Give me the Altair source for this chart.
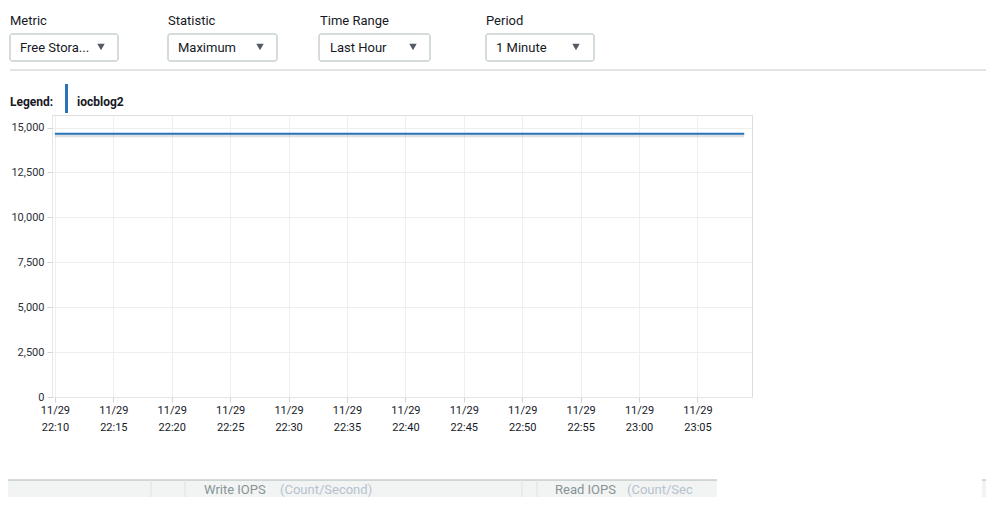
import altair as alt
import pandas as pd

# ---------------- data ----------------
minute_labels = [
    "22:10", "22:11", "22:12", "22:13", "22:14", "22:15", "22:16", "22:17", "22:18", "22:19",
    "22:20", "22:21", "22:22", "22:23", "22:24", "22:25", "22:26", "22:27", "22:28", "22:29",
    "22:30", "22:31", "22:32", "22:33", "22:34", "22:35", "22:36", "22:37", "22:38", "22:39",
    "22:40", "22:41", "22:42", "22:43", "22:44", "22:45", "22:46", "22:47", "22:48", "22:49",
    "22:50", "22:51", "22:52", "22:53", "22:54", "22:55", "22:56", "22:57", "22:58", "22:59",
    "23:00", "23:01", "23:02", "23:03", "23:04", "23:05", "23:06", "23:07", "23:08", "23:09",
]
free_storage = [
    14650, 14650, 14650, 14650, 14650, 14650, 14650, 14650, 14650, 14650,
    14650, 14650, 14650, 14650, 14650, 14650, 14650, 14650, 14650, 14650,
    14650, 14650, 14650, 14650, 14650, 14650, 14650, 14650, 14650, 14650,
    14650, 14650, 14650, 14650, 14650, 14650, 14650, 14650, 14650, 14650,
    14650, 14650, 14650, 14650, 14650, 14650, 14650, 14650, 14650, 14650,
    14650, 14650, 14650, 14650, 14650, 14650, 14650, 14650, 14650, 14650,
]
series_name = "iocblog2"
tick_dates = ["11/29"] * 12
tick_times = ["22:10", "22:15", "22:20", "22:25", "22:30", "22:35",
              "22:40", "22:45", "22:50", "22:55", "23:00", "23:05"]
y_ticks = [0, 2500, 5000, 7500, 10000, 12500, 15000]

control_titles = ["Metric", "Statistic", "Time Range", "Period"]
control_values = ["Free Stora...", "Maximum", "Last Hour", "1 Minute"]
bottom_tabs = ["Write IOPS", "Read IOPS"]
bottom_units = ["(Count/Second)", "(Count/Sec"]

# ---------------- layout (page pixels) ----------------
OX, OY = 52, 115          # plot origin on the page
W, H = 700, 282
FONT = "Roboto"
DARK = "#16191f"
BLUE = "#2a73b8"

def rx(v):
    return v - OX

def ry(v):
    return v - OY

XP = lambda f: alt.X(f + ":Q", scale=None, axis=None)
YP = lambda f: alt.Y(f + ":Q", scale=None, axis=None)
X2P = lambda f: alt.X2(f)
Y2P = lambda f: alt.Y2(f)

# ---------------- main series ----------------
df = pd.DataFrame({
    "t": ["2018-11-29T" + m + ":00Z" for m in minute_labels],
    "v": free_storage,
    "s": series_name,
})

def hm(s):
    h, m = s.split(":")
    return int(h), int(m)

tick_vals = [alt.DateTime(year=2018, month=11, date=29, hours=hm(t)[0], minutes=hm(t)[1], utc=True)
             for t in tick_times]
d0 = alt.DateTime(year=2018, month=11, date=29, hours=22, minutes=9, seconds=45, utc=True)
d1 = alt.DateTime(year=2018, month=11, date=29, hours=23, minutes=9, seconds=40, utc=True)
x_scale = alt.Scale(type="utc", domain=[d0, d1])
y_scale = alt.Scale(domain=[0, 15700], nice=False, zero=True)

x_enc = alt.X(
    "t:T",
    scale=x_scale,
    axis=alt.Axis(
        values=tick_vals, title=None,
        labelExpr="[utcFormat(datum.value, '%m/%d'), utcFormat(datum.value, '%H:%M')]",
        labelFlush=False, labelFontSize=11, labelColor=DARK, labelFont=FONT,
        labelLineHeight=17, labelPadding=2, tickSize=5, tickColor="#d0d4d6",
        domainColor="#e4e7e8", grid=True, gridColor="#eef0f0",
    ),
)
y_enc = alt.Y(
    "v:Q",
    scale=y_scale,
    axis=alt.Axis(
        values=y_ticks, labelExpr="format(datum.value, ',')", title=None,
        labelFontSize=11, labelColor="#2b3036",
        labelFont=FONT, labelPadding=3, tickSize=5, tickColor="#d0d4d6",
        domainColor="#e4e7e8", grid=True, gridColor="#eef0f0",
    ),
)

shadow = alt.Chart(df).mark_line(color="#b9bec0", strokeWidth=3, opacity=0.45, yOffset=2).encode(
    x=x_enc, y=y_enc)
line = alt.Chart(df).mark_line(color=BLUE, strokeWidth=2).encode(x=x_enc, y=y_enc)
series = alt.layer(shadow, line)

# ---------------- UI chrome ----------------
ctrl = pd.DataFrame({
    "title": control_titles,
    "value": control_values,
    "tx": [rx(v) for v in [10, 168, 320, 486]],
    "ty": [ry(21)] * 4,
    "bx0": [rx(v) for v in [10, 168, 319, 486]],
    "bx1": [rx(v) for v in [118, 277, 430, 594]],
    "by0": [ry(34)] * 4,
    "by1": [ry(61)] * 4,
    "vx": [rx(v) for v in [20, 178, 330, 496]],
    "vy": [ry(48)] * 4,
    "ax": [rx(v) for v in [101, 260, 413, 576]],
    "ay": [ry(47)] * 4,
})
ctrl_titles = alt.Chart(ctrl).mark_text(align="left", baseline="middle", font=FONT,
                                        fontSize=13, color=DARK).encode(
    x=XP("tx"), y=YP("ty"), text="title:N")
ctrl_boxes = alt.Chart(ctrl).mark_rect(fill="white", stroke="#aab7b8", strokeWidth=1,
                                       cornerRadius=2).encode(
    x=XP("bx0"), x2=X2P("bx1"), y=YP("by0"), y2=Y2P("by1"))
ctrl_vals = alt.Chart(ctrl).mark_text(align="left", baseline="middle", font=FONT,
                                      fontSize=13, color=DARK).encode(
    x=XP("vx"), y=YP("vy"), text="value:N")
ctrl_arrows = alt.Chart(ctrl).mark_point(shape="triangle-down", filled=True, size=55,
                                         color="#545b64", opacity=1).encode(
    x=XP("ax"), y=YP("ay"))

sep = pd.DataFrame({"x0": [rx(10)], "x1": [rx(1000)], "y": [ry(70)]})
sep_rule = alt.Chart(sep).mark_rule(color="#c6cbcd", strokeWidth=1).encode(
    x=XP("x0"), x2=X2P("x1"), y=YP("y"))

leg = pd.DataFrame({"lx": [rx(10)], "ly": [ry(102)], "label": ["Legend:"],
                    "nx": [rx(77)], "name": [series_name],
                    "bx0": [rx(65)], "bx1": [rx(68)], "by0": [ry(84)], "by1": [ry(113)]})
leg_label = alt.Chart(leg).mark_text(align="left", baseline="middle", font=FONT, fontSize=12,
                                     fontWeight="bold", color=DARK).encode(
    x=XP("lx"), y=YP("ly"), text="label:N")
leg_name = alt.Chart(leg).mark_text(align="left", baseline="middle", font=FONT, fontSize=12,
                                    fontWeight="bold", color=DARK).encode(
    x=XP("nx"), y=YP("ly"), text="name:N")
leg_bar = alt.Chart(leg).mark_rect(color=BLUE).encode(
    x=XP("bx0"), x2=X2P("bx1"), y=YP("by0"), y2=Y2P("by1"))

band = pd.DataFrame({"x0": [rx(-10)], "x1": [rx(1000)], "y0": [ry(480)], "y1": [ry(520)],
                     "wx0": [rx(717)], "wx1": [rx(982)], "wy0": [ry(477)]})
band_rect = alt.Chart(band).mark_rect(fill="#f2f3f3").encode(
    x=XP("x0"), x2=X2P("x1"), y=YP("y0"), y2=Y2P("y1"))
band_top = alt.Chart(band).mark_rule(color="#aab7b8", strokeWidth=1).encode(
    x=XP("x0"), x2=X2P("x1"), y=YP("y0"))
white_box = alt.Chart(band).mark_rect(fill="white").encode(
    x=XP("wx0"), x2=X2P("wx1"), y=YP("wy0"), y2=Y2P("y1"))

divs = pd.DataFrame({"x": [rx(v) for v in [151, 185, 522, 537]],
                     "y0": [ry(480)] * 4, "y1": [ry(520)] * 4})
div_rules = alt.Chart(divs).mark_rule(color="#dfe2e3").encode(
    x=XP("x"), y=YP("y0"), y2=Y2P("y1"))

tabs = pd.DataFrame({"tab": bottom_tabs, "unit": bottom_units,
                     "x": [rx(204), rx(555)], "ux": [rx(280), rx(627)], "y": [ry(490)] * 2})
tab_text = alt.Chart(tabs).mark_text(align="left", baseline="middle", font=FONT, fontSize=13,
                                     color="#879596").encode(
    x=XP("x"), y=YP("y"), text="tab:N")
unit_text = alt.Chart(tabs).mark_text(align="left", baseline="middle", font=FONT, fontSize=13,
                                      color="#b5c3cf").encode(
    x=XP("ux"), y=YP("y"), text="unit:N")

chart = alt.layer(
    band_rect, band_top, div_rules, tab_text, unit_text, white_box,
    sep_rule, ctrl_boxes, ctrl_titles, ctrl_vals, ctrl_arrows,
    leg_bar, leg_label, leg_name,
    series,
).resolve_scale(x="independent", y="independent").properties(
    width=W, height=H,
    autosize=alt.AutoSizeParams(type="none"),
    padding={"left": OX - 8, "top": OY - 8, "right": 978 - (OX - 8) - W, "bottom": 489 - (OY - 8) - H},
).configure_view(stroke="#eef0f0").configure(font=FONT)

chart.save("out.html", embed_options={"renderer": "svg", "actions": False})
